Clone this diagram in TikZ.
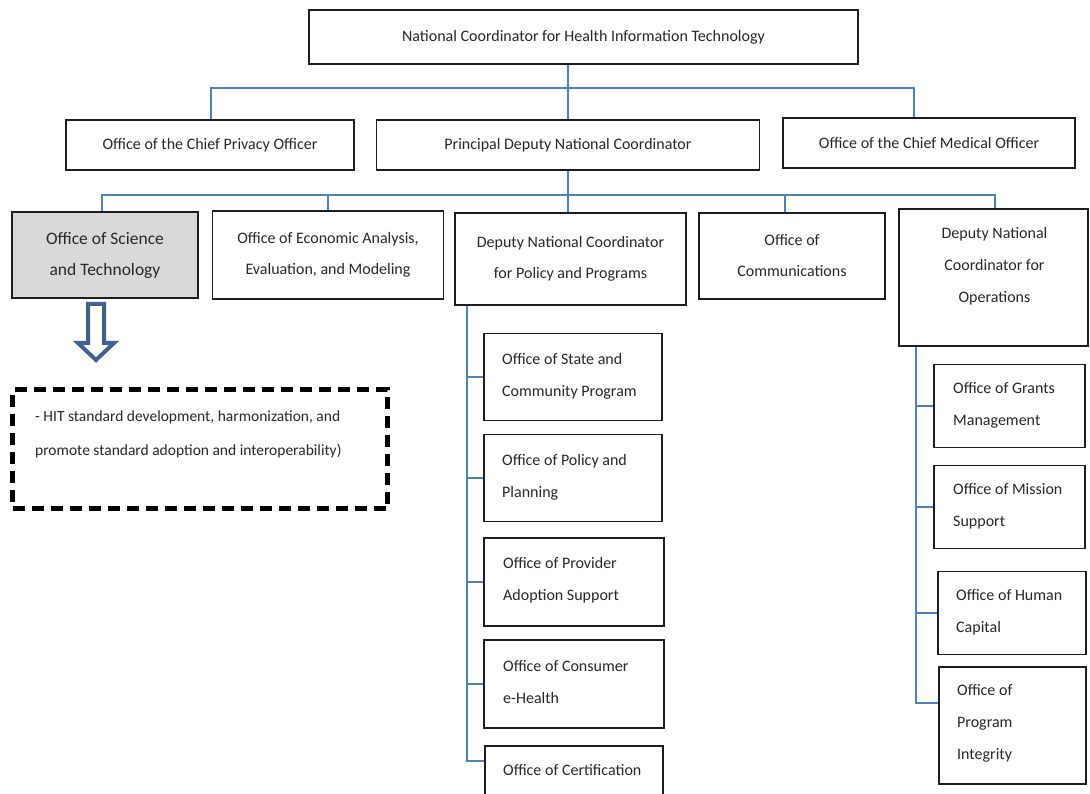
\documentclass[tikz,border=0pt]{standalone}
\usepackage{fontspec}
\setmainfont{Carlito}
\usetikzlibrary{calc}
\definecolor{linkblue}{RGB}{79,129,189}
\definecolor{arrowblue}{RGB}{65,98,143}
\definecolor{framegray}{RGB}{30,30,30}
\definecolor{unitgray}{RGB}{217,217,217}
\definecolor{inktext}{RGB}{40,40,40}

\begin{document}
\begin{tikzpicture}[x=1pt,y=-1pt,
  orgbox/.style={draw=framegray, line width=1.4pt, fill=white, rectangle,
    inner sep=0pt, text=inktext, align=center, font=\fontsize{16}{31}\selectfont},
  boxtext/.style={inner sep=0pt, text=inktext, align=center, font=\fontsize{16}{32}\selectfont},
  subtext/.style={anchor=west, inner sep=0pt, text=inktext, align=left, font=\fontsize{16}{32}\selectfont},
  link/.style={draw=linkblue, line width=1.5pt},
]
\useasboundingbox (0,0) rectangle (1090,794);
\clip (0,0) rectangle (1090,794);
\fill[white] (0,0) rectangle (1090,794);

% top levels
\node[orgbox, minimum width=549pt, minimum height=54pt] (nc) at (583.5,37) {National Coordinator for Health Information Technology};
\node[orgbox, minimum width=288pt, minimum height=50pt] (privacy) at (210,145) {Office of the Chief Privacy Officer};
\node[orgbox, minimum width=383pt, minimum height=50pt] (principal) at (568,145) {Principal Deputy National Coordinator};
\node[orgbox, minimum width=292pt, minimum height=50pt] (medical) at (929,143) {Office of the Chief Medical Officer};

% offices under the principal deputy
\node[orgbox, fill=unitgray, font=\fontsize{17.5}{31}\selectfont, minimum width=186pt, minimum height=86pt] (ost) at (105,255) {Office of Science\\and Technology};
\node[orgbox, minimum width=231pt, minimum height=88pt] (econ) at (328,255) {Office of Economic Analysis,\\Evaluation, and Modeling};
\node[orgbox, minimum width=231pt, minimum height=92pt] (dncpp) at (570.5,259) {Deputy National Coordinator\\for Policy and Programs};
\node[orgbox, minimum width=186pt, minimum height=86pt] (comms) at (792,256) {Office of\\Communications};
\node[orgbox, minimum width=189pt, minimum height=137pt] (dncops) at (993.5,277.5) {};
\node[boxtext] (dncopsT) at (994.5,266.5) {Deputy National\\Coordinator for\\Operations};

% policy and programs offices
\node[orgbox, minimum width=178pt, minimum height=87pt] (state) at (573,377) {};
\node[subtext] (stateT) at (502,376) {Office of State and\\Community Program};
\node[orgbox, minimum width=178pt, minimum height=87pt] (policyplan) at (573,478) {};
\node[subtext] (policyplanT) at (502,477) {Office of Policy and\\Planning};
\node[orgbox, minimum width=180pt, minimum height=88pt] (provider) at (574,582) {};
\node[subtext] (providerT) at (503,580) {Office of Provider\\Adoption Support};
\node[orgbox, minimum width=180pt, minimum height=88pt] (consumer) at (574,684) {};
\node[subtext] (consumerT) at (503,682) {Office of Consumer\\e-Health};
\node[orgbox, minimum width=178pt, minimum height=88pt] (cert) at (574,790) {};
\node[subtext] (certT) at (503,770) {Office of Certification};

% operations offices
\node[orgbox, minimum width=151pt, minimum height=83pt] (grants) at (1009.5,406) {};
\node[subtext] (grantsT) at (953,405) {Office of Grants\\Management};
\node[orgbox, minimum width=151pt, minimum height=83pt] (mission) at (1009.5,507) {};
\node[subtext] (missionT) at (953,506) {Office of Mission\\Support};
\node[orgbox, minimum width=148pt, minimum height=83pt] (human) at (1012,613) {};
\node[subtext] (humanT) at (956,612) {Office of Human\\Capital};
\node[orgbox, minimum width=147pt, minimum height=117pt] (integrity) at (1012.5,725.5) {};
\node[subtext] (integrityT) at (957,723) {Office of\\Program\\Integrity};

% connector bus lines
\coordinate (bus2L) at (211,88);
\coordinate (bus2R) at (914,88);
\draw[link] (principal.north) -- (principal.north |- nc.south);
\draw[link] (bus2L |- privacy.north) -- (bus2L) -- (bus2R) -- (bus2R |- medical.north);

\coordinate (bus3L) at (102,195);
\coordinate (bus3R) at (995,195);
\coordinate (commsDrop) at (785,195);
\draw[link] (principal.south) -- (principal.south |- dncpp.north);
\draw[link] (bus3L |- ost.north) -- (bus3L) -- (bus3R) -- (bus3R |- dncops.north);
\draw[link] (econ.north) -- (econ.north |- bus3L);
\draw[link] (commsDrop) -- (commsDrop |- comms.north);

\coordinate (ppTop) at (467,305);
\coordinate (ppBot) at (467,761);
\draw[link] (ppTop |- dncpp.south) -- (ppBot) -- (ppBot -| cert.west);
\foreach \unitname in {state,policyplan,provider,consumer}
  \draw[link] (\unitname.west) -- (\unitname.west -| ppTop);

\coordinate (opTop) at (916,346);
\coordinate (opBot) at (916,703);
\draw[link] (opTop |- dncops.south) -- (opBot) -- (opBot -| integrity.west);
\foreach \unitname in {grants,mission,human}
  \draw[link] (\unitname.west) -- (\unitname.west -| opTop);

% hollow block arrow below the science office
\draw[arrowblue, line width=4pt, fill=white, line join=miter]
  (88,304) -- (88,343) -- (78,343) -- (96,360) -- (114,343) -- (104,343) -- (104,304) -- cycle;

% dashed note box
\node[draw=black, line width=5pt, dash pattern=on 12pt off 7pt, rectangle, inner sep=0pt,
  minimum width=375pt, minimum height=119pt] (duties) at (200,449) {};
\node[subtext, font=\fontsize{15.5}{34}\selectfont] (dutiesT) at (35,434)
  {- HIT standard development, harmonization, and\\promote standard adoption and interoperability)};
\end{tikzpicture}
\end{document}
